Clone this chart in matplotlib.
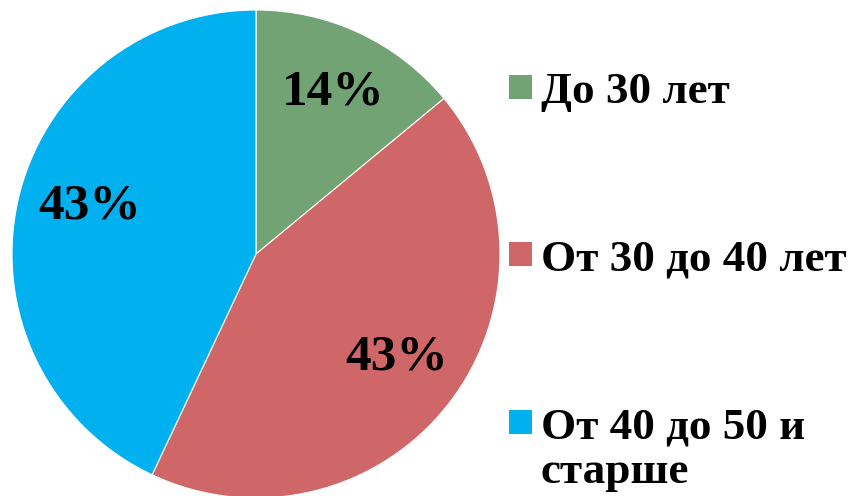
import matplotlib
matplotlib.use("Agg")
import matplotlib.pyplot as plt
from matplotlib.patches import Rectangle
import numpy as np

categories = ["До 30 лет", "От 30 до 40 лет", "От 40 до 50 и\nстарше"]
values = [14, 43, 43]
pct_labels = ["14%", "43%", "43%"]
colors = ["#72A374", "#CF6769", "#00B0EF"]

W, H = 858, 496
CX, CY, R = 256, H - 254, 244
fig = plt.figure(figsize=(W / 100, H / 100), dpi=100)
ax = fig.add_axes([0, 0, 1, 1])
FONT = ["Liberation Serif", "DejaVu Serif"]

wedges, texts = ax.pie(values, colors=colors, startangle=90, counterclock=False,
                       center=(CX, CY), radius=R,
                       wedgeprops=dict(edgecolor="white", linewidth=0.8))
ax.set_xlim(0, W)
ax.set_ylim(0, H)
ax.set_aspect("equal")
ax.axis("off")

# label placement (style): distance fraction and angle shift per wedge
label_dist = [0.742, 0.711, 0.714]
label_shift = [0.0, 2.2, -4.1]
for w, lab, d, s in zip(wedges, pct_labels, label_dist, label_shift):
    ang = np.deg2rad((w.theta1 + w.theta2) / 2 + s)
    x = CX + d * R * np.cos(ang)
    y = CY + d * R * np.sin(ang) + 3
    ax.text(x, y, lab, ha="center", va="center_baseline", fontsize=37,
            fontweight="bold", family=FONT, color="black")

# legend
row_y = [87, 254, 422]
for cat, col, yc in zip(categories, colors, row_y):
    ax.add_patch(Rectangle((509, H - yc - 12), 23, 24, facecolor=col, edgecolor="none"))
    ax.text(541, H - yc + 15, cat, ha="left", va="top", fontsize=32.5,
            fontweight="bold", family=FONT, color="black", linespacing=1.15)

fig.savefig("out.png", dpi=100, facecolor="white")
